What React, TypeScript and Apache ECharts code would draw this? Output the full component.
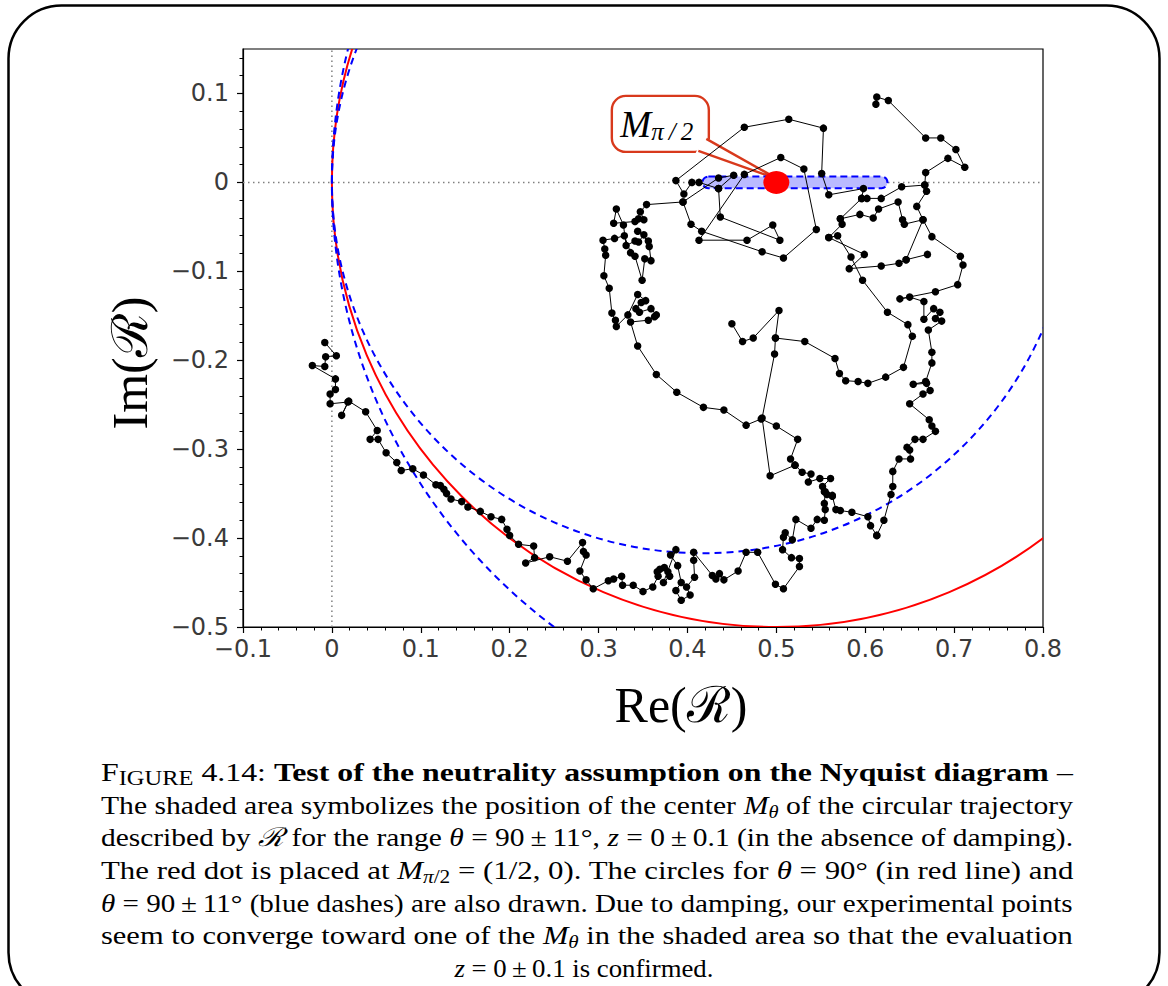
import React, { useEffect, useRef } from "react";
import * as echarts from "echarts";

// ---------- axes ----------
const X_RANGE = [-0.1, 0.8];
const Y_RANGE = [-0.5, 0.15];
const X_TICKS = [-0.1, 0, 0.1, 0.2, 0.3, 0.4, 0.5, 0.6, 0.7, 0.8];
const Y_TICKS = [-0.5, -0.4, -0.3, -0.2, -0.1, 0, 0.1];

// ---------- circles [cx, cy, r] ----------
const RED_CIRCLE = [[0.5, 0, 0.5]];
const BLUE_CIRCLES = [
  [0.417, 0, 0.417],
  [0.625, 0, 0.625],
];
// shaded band of centres [xStart, xEnd, halfHeight]
const SHADED_BAND = [[0.417, 0.625, 0.0065]];
const RED_DOT = [[0.5, 0]];

// ---------- experimental trajectory (Re, Im) ----------
const trajBottom = [
  [-0.008, -0.18], [0.005, -0.195], [-0.007, -0.196], [-0.008, -0.207], [-0.022, -0.206],
  [0.004, -0.221], [0.004, -0.233], [-0.002, -0.238], [-0.002, -0.249], [0.018, -0.247],
  [0.011, -0.262], [0.019, -0.246], [0.038, -0.258], [0.051, -0.279], [0.043, -0.289],
  [0.052, -0.289], [0.061, -0.304], [0.073, -0.315], [0.078, -0.324], [0.091, -0.322],
  [0.103, -0.329], [0.117, -0.34], [0.122, -0.341], [0.126, -0.345], [0.129, -0.35],
  [0.134, -0.356], [0.146, -0.359], [0.153, -0.365], [0.167, -0.37], [0.179, -0.376],
  [0.191, -0.379], [0.197, -0.39], [0.2, -0.397], [0.21, -0.407], [0.227, -0.409],
  [0.228, -0.422], [0.218, -0.428], [0.245, -0.421], [0.265, -0.426], [0.282, -0.405],
  [0.283, -0.415], [0.286, -0.419], [0.279, -0.437], [0.286, -0.447], [0.294, -0.457],
  [0.311, -0.448], [0.317, -0.446], [0.326, -0.443], [0.327, -0.453], [0.339, -0.453],
  [0.35, -0.46], [0.361, -0.455], [0.367, -0.443], [0.366, -0.438], [0.369, -0.435],
  [0.374, -0.433], [0.378, -0.438], [0.38, -0.443], [0.373, -0.45], [0.387, -0.413],
  [0.381, -0.419], [0.389, -0.431], [0.393, -0.45], [0.387, -0.459], [0.393, -0.47],
  [0.403, -0.464], [0.399, -0.455], [0.408, -0.444], [0.407, -0.425], [0.407, -0.416],
  [0.428, -0.442], [0.432, -0.446], [0.436, -0.44], [0.441, -0.447], [0.457, -0.437],
  [0.466, -0.416], [0.479, -0.416], [0.499, -0.452], [0.508, -0.457], [0.526, -0.432],
  [0.526, -0.423], [0.517, -0.422], [0.507, -0.413], [0.508, -0.399], [0.51, -0.394],
  [0.518, -0.402], [0.522, -0.379], [0.539, -0.389], [0.546, -0.379], [0.554, -0.38],
  [0.555, -0.368], [0.554, -0.361], [0.555, -0.348], [0.563, -0.353], [0.567, -0.368],
  [0.572, -0.369], [0.585, -0.371], [0.603, -0.376], [0.606, -0.386], [0.613, -0.397],
];
const trajRight = [
  [0.613, -0.397], [0.621, -0.38], [0.629, -0.351], [0.631, -0.342], [0.631, -0.325],
  [0.638, -0.311], [0.651, -0.311], [0.65, -0.301], [0.647, -0.298], [0.656, -0.289],
  [0.665, -0.289], [0.679, -0.28], [0.675, -0.274], [0.672, -0.267], [0.65, -0.249],
  [0.665, -0.238], [0.673, -0.234], [0.669, -0.226], [0.654, -0.227], [0.668, -0.224],
  [0.675, -0.203], [0.675, -0.191], [0.671, -0.166], [0.686, -0.156], [0.679, -0.153],
  [0.684, -0.146], [0.677, -0.142], [0.666, -0.154], [0.666, -0.134], [0.65, -0.129],
  [0.639, -0.131], [0.679, -0.123], [0.704, -0.115], [0.71, -0.093], [0.707, -0.083],
  [0.675, -0.061], [0.665, -0.042], [0.658, -0.027], [0.669, -0.01], [0.667, -0.003],
  [0.668, 0.011], [0.693, 0.027], [0.712, 0.017], [0.702, 0.037], [0.685, 0.05],
  [0.668, 0.05], [0.626, 0.092], [0.613, 0.096], [0.612, 0.088],
];
const trajInner = [
  [0.563, -0.352], [0.557, -0.351], [0.554, -0.348], [0.552, -0.342], [0.561, -0.333],
  [0.549, -0.333], [0.536, -0.337], [0.539, -0.328], [0.529, -0.326], [0.521, -0.318],
  [0.516, -0.311], [0.524, -0.289], [0.5, -0.274], [0.483, -0.266], [0.466, -0.273],
  [0.441, -0.256], [0.418, -0.253], [0.388, -0.236], [0.365, -0.216], [0.344, -0.184],
  [0.336, -0.157], [0.356, -0.155], [0.363, -0.151], [0.365, -0.149], [0.359, -0.142],
  [0.346, -0.146], [0.342, -0.142], [0.348, -0.135], [0.353, -0.133], [0.344, -0.126],
  [0.333, -0.149], [0.32, -0.162], [0.319, -0.155], [0.315, -0.147], [0.312, -0.119],
  [0.306, -0.105], [0.308, -0.082], [0.307, -0.075], [0.305, -0.065], [0.318, -0.063],
  [0.329, -0.06], [0.336, -0.079], [0.341, -0.083], [0.349, -0.11], [0.352, -0.086],
  [0.359, -0.088], [0.357, -0.072], [0.356, -0.066], [0.344, -0.055], [0.351, -0.059],
  [0.345, -0.067], [0.341, -0.066], [0.331, -0.071], [0.328, -0.048], [0.32, -0.03],
  [0.317, -0.046], [0.341, -0.044], [0.345, -0.041], [0.351, -0.042], [0.347, -0.033],
  [0.354, -0.025], [0.395, -0.022], [0.435, 0.005], [0.452, 0.008], [0.435, -0.007],
  [0.413, 0.0], [0.405, 0.0], [0.396, -0.013], [0.387, 0.002], [0.464, 0.062],
  [0.514, 0.071], [0.553, 0.061], [0.551, 0.01], [0.559, -0.014], [0.598, -0.007],
  [0.596, -0.018], [0.572, -0.041], [0.574, -0.047], [0.559, -0.062], [0.599, -0.081],
  [0.582, -0.097], [0.618, -0.094], [0.638, -0.091], [0.646, -0.087], [0.67, -0.081],
];
const trajWebA = [
  [0.596, -0.018], [0.602, -0.018], [0.618, -0.018], [0.641, -0.005], [0.667, -0.003],
];
const trajWebB = [
  [0.572, -0.041], [0.594, -0.036], [0.609, -0.04], [0.615, -0.03], [0.637, -0.022],
  [0.642, -0.042], [0.644, -0.047], [0.665, -0.042], [0.646, -0.087],
];
const trajUpper = [
  [0.395, -0.022], [0.404, -0.047], [0.416, -0.055], [0.484, -0.078], [0.508, -0.085],
  [0.545, -0.053], [0.531, 0.015], [0.505, 0.028], [0.464, 0.009], [0.413, -0.065],
  [0.467, -0.065], [0.496, -0.048], [0.504, -0.065], [0.437, -0.039], [0.435, -0.007],
];
const trajSpiral = [
  [0.559, -0.062], [0.569, -0.06], [0.584, -0.084], [0.597, -0.11], [0.625, -0.146],
  [0.648, -0.16], [0.653, -0.173], [0.643, -0.208], [0.623, -0.219], [0.603, -0.226],
  [0.592, -0.224], [0.578, -0.223], [0.571, -0.215], [0.566, -0.198], [0.532, -0.179],
  [0.499, -0.175], [0.503, -0.144], [0.474, -0.175], [0.462, -0.179], [0.45, -0.159],
];
const trajLink = [
  [0.499, -0.175], [0.498, -0.193], [0.484, -0.265], [0.493, -0.33], [0.521, -0.318],
];
const TRAJECTORY = [trajBottom, trajRight, trajInner, trajWebA, trajWebB, trajUpper, trajSpiral, trajLink];

// ---------- texts ----------
const X_NAME = "Re(\u211B)";
const Y_NAME = "Im(\u211B)";
const CALLOUT = [["m", "M"], ["s", "\u03C0\u2009/\u20092"]];
const CAPTION = [
  [["sc1", "F"], ["sc2", "IGURE"], ["n", " 4.14: "], ["b", "Test of the neutrality assumption on the Nyquist diagram"], ["n", " \u2013"]],
  [["n", "The shaded area symbolizes the position of the center "], ["i", "M"], ["sub", "\u03B8"], ["n", " of the circular trajectory"]],
  [["n", "described by "], ["cal", "\u211B"], ["n", " for the range "], ["i", "\u03B8"], ["n", " = 90\u2009\u00B1\u200911\u00B0, "], ["i", "z"], ["n", " = 0\u2009\u00B1\u20090.1 (in the absence of damping)."]],
  [["n", "The red dot is placed at "], ["i", "M"], ["sub", "\u03C0"], ["subn", "/2"], ["n", " = (1/2, 0). The circles for "], ["i", "\u03B8"], ["n", " = 90\u00B0 (in red line) and"]],
  [["i", "\u03B8"], ["n", " = 90\u2009\u00B1\u200911\u00B0 (blue dashes) are also drawn. Due to damping, our experimental points"]],
  [["n", "seem to converge toward one of the "], ["i", "M"], ["sub", "\u03B8"], ["n", " in the shaded area so that the evaluation"]],
  [["i", "z"], ["n", " = 0\u2009\u00B1\u20090.1 is confirmed."]],
];

const SERIF = '"Liberation Serif", "DejaVu Serif", serif';
const CAP_SIZE = 26;
const capRich: Record<string, any> = {
  n: { fontFamily: SERIF, fontSize: CAP_SIZE, lineHeight: 32, fill: "#000" },
  b: { fontFamily: SERIF, fontSize: CAP_SIZE, fontWeight: "bold", lineHeight: 32, fill: "#000" },
  i: { fontFamily: SERIF, fontSize: CAP_SIZE, fontStyle: "italic", lineHeight: 32, fill: "#000" },
  cal: { fontFamily: SERIF, fontSize: CAP_SIZE, fontStyle: "italic", lineHeight: 32, fill: "#000" },
  sc1: { fontFamily: SERIF, fontSize: CAP_SIZE, lineHeight: 32, fill: "#000" },
  sc2: { fontFamily: SERIF, fontSize: 20, lineHeight: 32, verticalAlign: "bottom", fill: "#000" },
  sub: { fontFamily: SERIF, fontSize: 18, fontStyle: "italic", lineHeight: 16, verticalAlign: "bottom", fill: "#000" },
  subn: { fontFamily: SERIF, fontSize: 18, lineHeight: 16, verticalAlign: "bottom", fill: "#000" },
};

function measure(tokens: string[][], rich: Record<string, any>): number {
  const ctx = document.createElement("canvas").getContext("2d");
  if (!ctx) return 0;
  let w = 0;
  for (const [k, t] of tokens) {
    const s = rich[k];
    ctx.font = `${s.fontStyle || "normal"} ${s.fontWeight || "normal"} ${s.fontSize}px ${s.fontFamily}`;
    w += ctx.measureText(t).width;
  }
  return w;
}

const toRich = (tokens: string[][]) => tokens.map(([k, t]) => `{${k}|${t}}`).join("");

const fmt = (v: number) => {
  const k = Math.round(v * 10);
  if (Math.abs(v * 10 - k) > 1e-6) return "";
  if (k === 0) return "0";
  return (k < 0 ? "\u2212" : "") + (Math.abs(k) / 10).toFixed(1);
};

export default function App() {
  const ref = useRef<HTMLDivElement>(null);

  useEffect(() => {
    if (!ref.current) return;
    const chart = echarts.init(ref.current, undefined, { renderer: "svg" });

    const tickLabel = { fontSize: 24, color: "#3a3a3a", fontFamily: "DejaVu Sans" };
    const axisCommon = {
      type: "value",
      axisLine: { show: true, onZero: false, lineStyle: { color: "#000", width: 1.2 } },
      axisTick: { show: true, inside: false, length: 6, lineStyle: { color: "#000", width: 1.2 } },
      minorTick: { show: true, splitNumber: 5, length: 3.5, lineStyle: { color: "#000", width: 1 } },
      splitLine: { show: false },
      minorSplitLine: { show: false },
    };

    const trajSeries = TRAJECTORY.map((d) => ({
      type: "line",
      data: d,
      symbol: "circle",
      symbolSize: 7.5,
      showSymbol: true,
      itemStyle: { color: "#000" },
      lineStyle: { color: "#000", width: 1 },
      z: 4,
      silent: true,
    }));

    const circleSeries = (data: number[][], color: string, dash: any) => ({
      type: "custom",
      data,
      encode: { x: 0, y: 1 },
      clip: true,
      z: 2,
      silent: true,
      renderItem: (_p: any, api: any) => {
        const c = api.coord([api.value(0), api.value(1)]);
        const s = api.size([api.value(2), api.value(2)]);
        return {
          type: "ellipse",
          shape: { cx: c[0], cy: c[1], rx: s[0], ry: s[1] },
          style: { fill: "none", stroke: color, lineWidth: 2, lineDash: dash },
        };
      },
    });

    chart.setOption({
      animation: false,
      backgroundColor: "#fff",
      grid: { left: 243, top: 49, width: 800, height: 578, show: true, borderColor: "#000", borderWidth: 1.2, backgroundColor: "transparent" },
      xAxis: {
        ...axisCommon,
        min: X_RANGE[0],
        max: X_RANGE[1],
        interval: 0.1,
        axisLabel: { ...tickLabel, formatter: fmt, margin: 10, customValues: X_TICKS },
      },
      yAxis: {
        ...axisCommon,
        min: Y_RANGE[0],
        max: Y_RANGE[1],
        interval: 0.1,
        axisTick: { ...axisCommon.axisTick, customValues: Y_TICKS },
        axisLabel: { ...tickLabel, formatter: fmt, margin: 14, customValues: Y_TICKS },
      },
      series: [
        {
          type: "line",
          data: [[0, Y_RANGE[0]], [0, Y_RANGE[1]]],
          symbol: "none",
          lineStyle: { color: "#808080", width: 1.5, type: [1.5, 3.5] },
          z: 1,
          silent: true,
        },
        {
          type: "line",
          data: [[X_RANGE[0], 0], [X_RANGE[1], 0]],
          symbol: "none",
          lineStyle: { color: "#808080", width: 1.5, type: [1.5, 3.5] },
          z: 1,
          silent: true,
        },
        circleSeries(RED_CIRCLE, "#ff0000", null),
        circleSeries(BLUE_CIRCLES, "#0000ff", [7, 5]),
        {
          type: "custom",
          data: SHADED_BAND,
          encode: { x: [0, 1], y: 2 },
          z: 3,
          silent: true,
          renderItem: (_p: any, api: any) => {
            const a = api.coord([api.value(0), api.value(2)]);
            const b = api.coord([api.value(1), -api.value(2)]);
            const h = b[1] - a[1];
            return {
              type: "rect",
              shape: { x: a[0], y: a[1], width: b[0] - a[0], height: h, r: h / 2 },
              style: { fill: "#babaff", stroke: "#0000ff", lineWidth: 2, lineDash: [7, 4] },
            };
          },
        },
        ...trajSeries,
        {
          type: "scatter",
          data: RED_DOT,
          symbol: "circle",
          symbolSize: [26, 23],
          itemStyle: { color: "#ff0000", opacity: 1 },
          z: 5,
          silent: true,
        },
      ],
    });

    // callout anchored on the red dot
    const p = chart.convertToPixel({ xAxisIndex: 0, yAxisIndex: 0 }, RED_DOT[0]) as number[];
    const ax = p[0];
    const ay = p[1];
    const calloutRich = {
      m: { fontFamily: SERIF, fontSize: 37, fontStyle: "italic", lineHeight: 40, fill: "#000" },
      s: { fontFamily: SERIF, fontSize: 25, fontStyle: "italic", lineHeight: 16, verticalAlign: "bottom", fill: "#000" },
    };

    const captionEls = CAPTION.map((tokens, idx) => {
      const natural = measure(tokens, capRich);
      const last = idx === CAPTION.length - 1;
      const target = 972;
      const scale = last ? 1.03 : natural > 0 ? target / natural : 1;
      return {
        type: "text",
        x: last ? 584 - (natural * scale) / 2 : 101,
        y: 772 + idx * 32.67,
        scaleX: scale,
        style: { text: toRich(tokens), rich: capRich, verticalAlign: "middle", align: "left" },
        silent: true,
      };
    });

    chart.setOption({
      graphic: [
        {
          type: "rect",
          shape: { x: 8.5, y: 5.5, width: 1151, height: 1000, r: 53 },
          style: { fill: "none", stroke: "#000", lineWidth: 2.5 },
          silent: true,
          z: 0,
        },
        {
          type: "text",
          x: 681,
          y: 705,
          style: { text: X_NAME, fontFamily: SERIF, fontSize: 50, fill: "#000", align: "center", verticalAlign: "middle" },
          silent: true,
        },
        {
          type: "text",
          x: 130,
          y: 363,
          rotation: Math.PI / 2,
          style: { text: Y_NAME, fontFamily: SERIF, fontSize: 50, fill: "#000", align: "center", verticalAlign: "middle" },
          silent: true,
        },
        {
          type: "group",
          z: 100,
          children: [
            {
              type: "rect",
              shape: { x: ax - 164.5, y: ay - 86.5, width: 97, height: 56, r: 14 },
              style: { fill: "#fff", stroke: "#d8391c", lineWidth: 2.4 },
            },
            {
              type: "polygon",
              shape: { points: [[ax - 72, ay - 46], [ax - 81, ay - 29], [ax + 2, ay - 3]] },
              style: { fill: "#fff", stroke: "none" },
            },
            {
              type: "polyline",
              shape: { points: [[ax - 70, ay - 43.5], [ax + 2, ay - 3], [ax - 78, ay - 31.5]] },
              style: { fill: "none", stroke: "#d8391c", lineWidth: 2.4 },
            },
            {
              type: "text",
              x: ax - 156,
              y: ay - 58,
              style: { text: toRich(CALLOUT), rich: calloutRich, verticalAlign: "middle", align: "left" },
            },
          ],
        },
        ...captionEls,
      ],
    });

    return () => chart.dispose();
  }, []);

  return (
    <div
      ref={ref}
      style={{ position: "absolute", left: 0, top: 0, width: 1168, height: 986, background: "#fff" }}
    />
  );
}
